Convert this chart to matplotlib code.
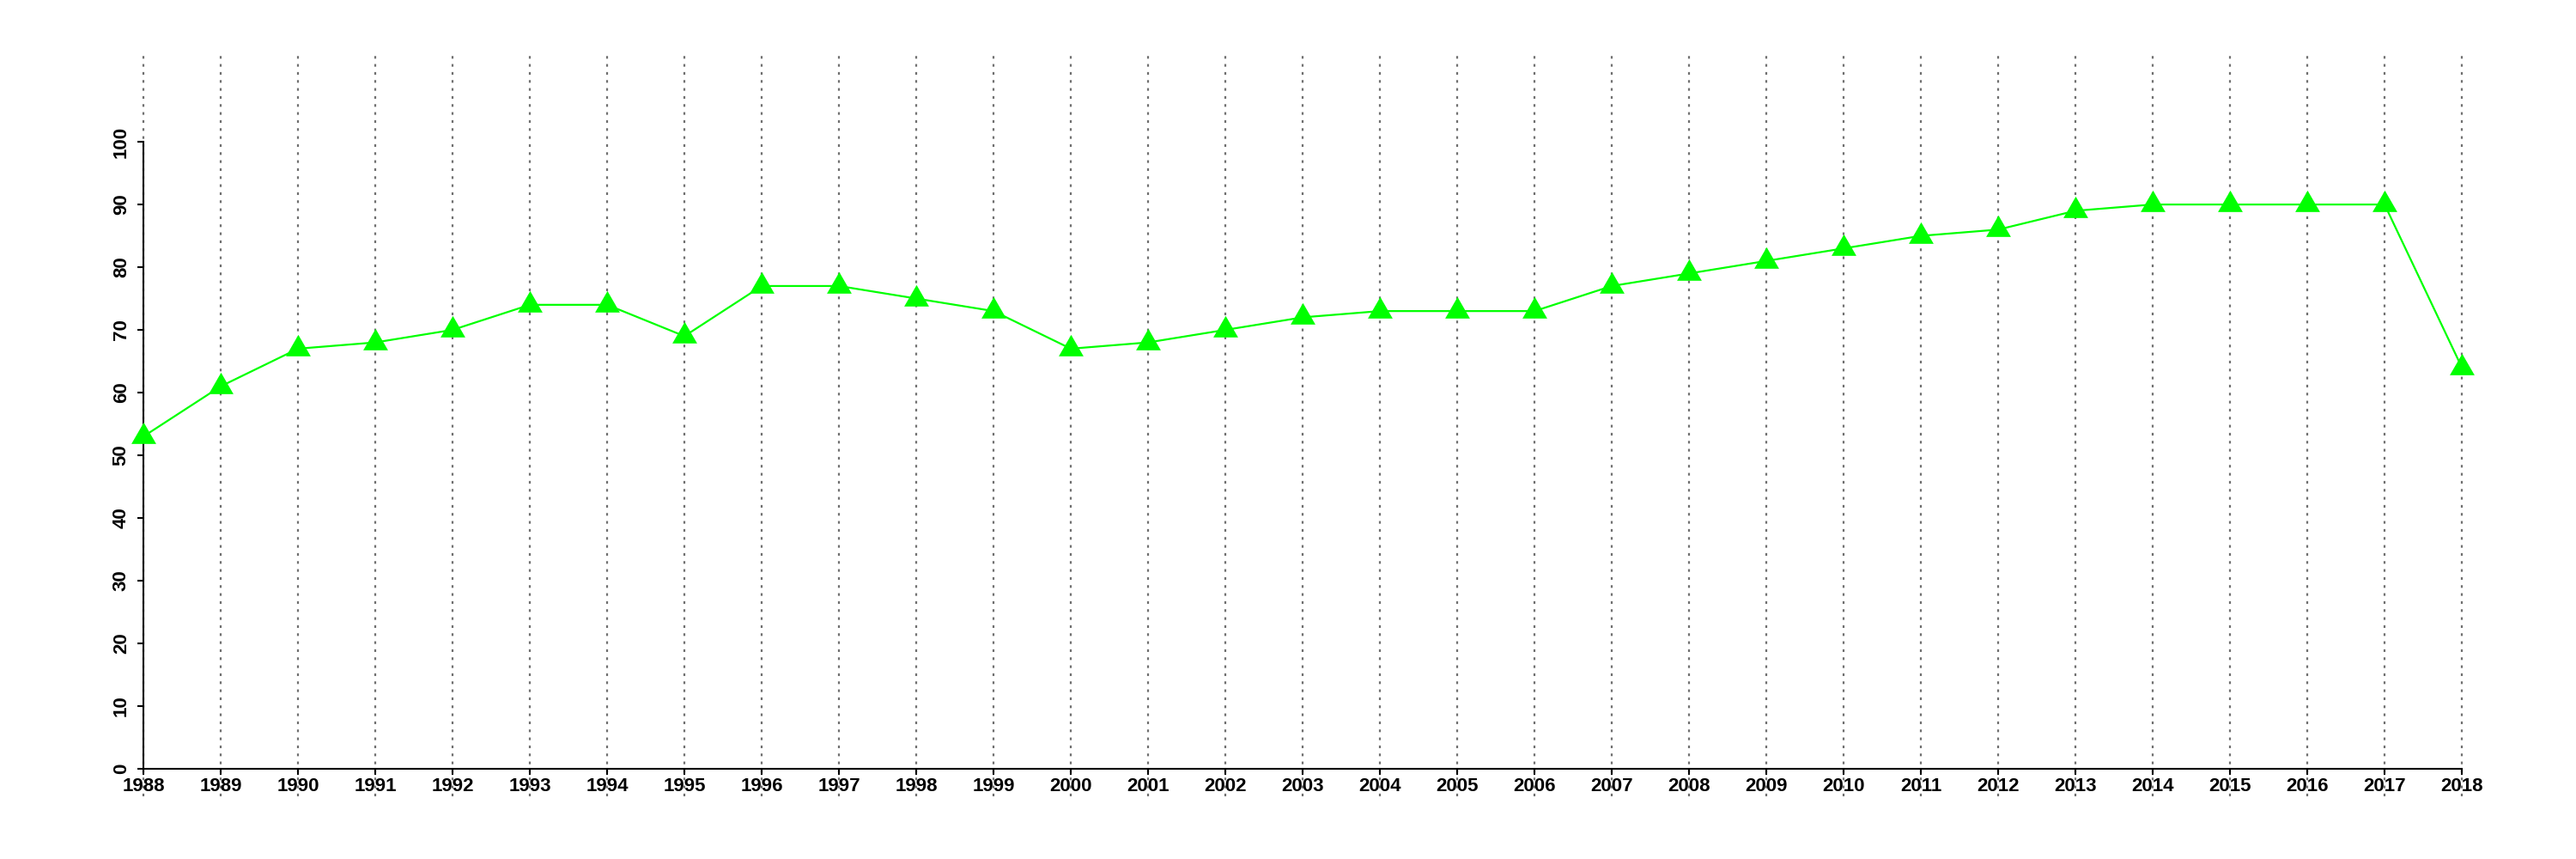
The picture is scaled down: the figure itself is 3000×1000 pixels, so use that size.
import matplotlib
matplotlib.use("Agg")
import matplotlib.pyplot as plt

# =====================================
# Data
# =====================================
years = list(range(1988, 2019))
values = [53, 61, 67, 68, 70, 74, 74, 69, 77, 77, 75, 73, 67, 68, 70, 72,
          73, 73, 73, 77, 79, 81, 83, 85, 86, 89, 90, 90, 90, 90, 64]
y_ticks = list(range(0, 101, 10))

plt.rcParams['font.family'] = ['Liberation Sans', 'DejaVu Sans']
plt.rcParams['font.weight'] = 'bold'

# =====================================
# Figure
# =====================================
fig = plt.figure(figsize=(30, 10), dpi=100)
ax = fig.add_axes([0.0197, 0.073, 0.972, 0.867])

# equilateral triangle, centred on its centroid (like R pch 17)
tri = [(-1, -0.577), (1, -0.577), (0, 1.155), (-1, -0.577)]

ax.plot(years, values, color='#00FF00', lw=1.6, marker=tri,
        markersize=24, markeredgewidth=0, markerfacecolor='#00FF00', zorder=3)

ax.set_xlim(1986.8, 2019.2)
ax.set_ylim(-4.4, 114.4)

ax.set_xticks(years)
ax.set_xticklabels([str(y) for y in years])
ax.set_yticks(y_ticks)
ax.set_yticklabels([str(v) for v in y_ticks])

# vertical dotted grid
ax.grid(axis='x', color='#707070', linestyle=(0, (1.4, 2.8)), lw=1.6)
ax.set_axisbelow(True)

for s in ['top', 'right']:
    ax.spines[s].set_visible(False)
ax.spines['left'].set_position(('data', 1988))
ax.spines['bottom'].set_position(('data', 0))
ax.spines['left'].set_bounds(0, 100)
ax.spines['bottom'].set_bounds(1988, 2018)
for s in ['left', 'bottom']:
    ax.spines[s].set_linewidth(1.5)

ax.tick_params(axis='both', length=5, width=1.5, labelsize=16)
ax.tick_params(axis='x', pad=2)
ax.tick_params(axis='y', pad=6, labelrotation=90)
for lbl in ax.get_yticklabels():
    lbl.set_verticalalignment('center')

fig.savefig('out.png', dpi=100)
